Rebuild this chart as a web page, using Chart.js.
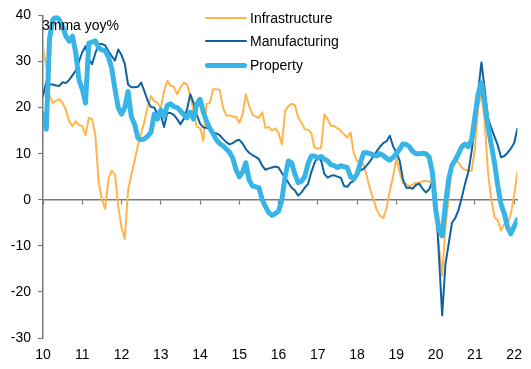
<!DOCTYPE html>
<html>
<head>
<meta charset="utf-8">
<script src="https://cdn.jsdelivr.net/npm/chart.js@4/dist/chart.umd.min.js"></script>
<style>
  body { margin: 0; background: #fff; font-family: "Liberation Sans", Arial, sans-serif; }
  #wrap { position: relative; width: 531px; height: 369px; }
  .note { position: absolute; left: 42px; top: 17px; font-size: 14px; line-height: 16px; color: #000; }
  .leg { position: absolute; left: 205px; font-size: 14px; line-height: 16px; color: #000; }
  .leg span.ln { position: absolute; left: 0; width: 42px; }
  .leg span.tx { position: absolute; left: 45px; top: 0; white-space: nowrap; }
</style>
</head>
<body>
<div id="wrap">
  <canvas id="grafico" width="531" height="369"></canvas>
  <div class="note">3mma yoy%</div>
  <div id="leyenda"></div>
</div>
<script>
// --- Datos (mensuales, ene-2010 a feb-2022) ---
const startYear = 2010;
const yearLabels = ["10", "11", "12", "13", "14", "15", "16", "17", "18", "19", "20", "21", "22"];
const seriesNames = ["Infrastructure", "Manufacturing", "Property"];
const seriesColors = ["#FDB54C", "#0E62A3", "#38B4E6"];

const infrastructure = [
  33, 29, 22.5, 21, 21.5, 21.8, 21, 19.5, 17, 16,
  17, 16.2, 16, 14, 17.8, 17.5, 14, 4, 0, -2,
  4.5, 6.3, 5.5, -1.5, -6, -8.5, 2, 5.5, 8.5, 11.8,
  14.5, 17, 20.2, 22.5, 21.4, 21, 20, 23.6, 25.8, 24.7,
  24.5, 22.9, 24.3, 25.4, 25, 22.6, 19.3, 15.8, 15.6, 12.8,
  20.8, 21, 24, 24, 23.8, 20, 18.3, 18.3, 18, 18,
  16.7, 18.5, 22.9, 20.3, 18.5, 18, 17.8, 19, 15.6, 15.8,
  15, 15.5, 14.5, 12, 19.3, 20.3, 20.8, 20.5, 17.8, 16.7,
  15.3, 15.2, 14.5, 11.3, 11.1, 11.3, 18.5, 17.5, 16, 16,
  15.5, 15, 14.2, 13.5, 14.6, 10, 8.4, 8.3, 7.5, 5,
  2.2, 0, -2.2, -3.5, -4, -1.8, 2, 5, 9, 6,
  3.6, 3.4, 2.8, 3.3, 3.7, 3.7, 4, 4.1, 3.9, 4.1,
  -3, -10, -16.5, -6, 0.5, 8, 9, 8, 7, 6.5,
  6.3, 6.3, 11, 20, 23.2, 17, 6, 0.2, -3.8, -4.5,
  -6.7, -5.3, -5.3, -3, 1, 5.9
];

const manufacturing = [
  22.5, 25.5, 25, 25, 24.8, 24.7, 25.5, 25.3, 26, 27,
  28, 30, 32, 33.3, 30.5, 29.4, 31.8, 33.8, 33.8, 33.5,
  32.2, 31.2, 30.2, 32.6, 31.4, 29.5, 25, 24.4, 24.4, 24.5,
  25.4, 23.5, 21.5, 20.1, 20, 18.6, 18.4, 15.8, 18.9, 18.8,
  18.4, 17.5, 16.4, 17.5, 19.5, 22.9, 21, 18.5, 16.5, 15.7,
  15.6, 15.3, 14.6, 14.4, 14, 13.2, 12.5, 12, 12.3, 12.8,
  13, 12.2, 11, 10.2, 9.7, 9.3, 8.8, 7.4, 6.5, 6.8,
  7, 7.2, 7, 5.8, 4.8, 3.7, 2.6, 2, 0.9, 1.6,
  2.6, 3.4, 6, 8, 9.5, 8.5, 5.6, 4.8, 5.2, 5.3,
  5, 4.8, 3, 2.8, 3.7, 4.1, 5.5, 6.4, 6.7, 7.5,
  8.4, 9.5, 10.5, 11.5, 12.3, 12.7, 13.9, 11.6, 10.2, 8.5,
  4.5, 2.6, 2.6, 2.4, 3.2, 3.5, 2.4, 1.6, 2.2, 4,
  1, -12, -25.1, -14, -9.5, -5, -4, -2.2, 0.5, 3.5,
  6, 10.5, 16, 23.5, 29.8, 24, 17.8, 15.6, 13.7, 11.8,
  9.2, 9.5, 10.2, 11.1, 12.3, 15.4
];

const property = [
  18.6, 15.3, 35, 39, 39.8, 39, 37.5, 35.5, 34.4, 35.5,
  32, 26, 24, 21, 34, 34.2, 34.5, 33, 32.5, 32.3,
  31, 28.5, 24, 20, 18.6, 20, 23.5, 18, 16.4, 13.4,
  13, 13.2, 13.8, 14.6, 18.6, 17.5, 19.5, 18, 20.5, 20.8,
  20.2, 20, 19.3, 18.5, 17.8, 19, 17.5, 20.8, 21.8, 19,
  17, 15.5, 14.3, 13, 12.2, 11.7, 11, 10.3, 9, 6.5,
  5, 6, 8, 4.3, 3, 2.8, 2.6, 0, -1.5, -2.8,
  -3.4, -3, -2.5, 0, 5, 8.4, 8, 5.5, 3.7, 4,
  5, 7.8, 9.5, 9.5, 9, 9.4, 8.8, 8.4, 7.6, 7.4,
  7, 7.4, 7.2, 7, 5, 4.5, 5.6, 8, 10.2, 10.2,
  10, 9.7, 9.5, 10, 9.6, 9, 8.6, 9.2, 10, 11,
  12.1, 12, 11.5, 10.5, 10, 10, 10.1, 10, 9.3, 6,
  -2, -6.5, -7.8, -1, 4.5, 7.5, 8.6, 10, 11.5, 12.1,
  11.5, 13, 18, 23, 25.4, 21, 16, 12, 8, 3,
  -1, -3, -6, -7.4, -5.8, -4.3
];

// --- Utilidades ---
const toPoints = (arr) => arr.map((v, i) => ({ x: startYear + i / 12, y: v }));
const yearTicks = (scale) => {
  scale.ticks = yearLabels.map((_, k) => ({ value: startYear + k }));
};
const axisGrey = "#7a7a7a";
const font = { family: "'Liberation Sans', Arial, sans-serif", size: 14 };
const xMax = startYear + (property.length - 1) / 12;

const anchos = [2, 2, 5];
const orden = [2, 1, 0];
const valores = [infrastructure, manufacturing, property];

const datasets = seriesNames.map((nombre, k) => ({
  label: nombre,
  data: toPoints(valores[k]),
  borderColor: seriesColors[k],
  backgroundColor: seriesColors[k],
  borderWidth: anchos[k],
  pointRadius: 0,
  tension: 0,
  borderJoinStyle: "round",
  borderCapStyle: "round",
  order: orden[k]
}));

new Chart(document.getElementById("grafico").getContext("2d"), {
  type: "line",
  data: { datasets },
  options: {
    responsive: false,
    animation: false,
    devicePixelRatio: 1,
    layout: { padding: { top: 15, right: 9, bottom: 0, left: 0 } },
    plugins: { legend: { display: false }, tooltip: { enabled: false } },
    scales: {
      x: {
        type: "linear",
        position: "bottom",
        min: startYear,
        max: xMax,
        afterBuildTicks: yearTicks,
        afterFit: (s) => { s.height = 31; },
        border: { display: false },
        grid: { display: false, drawTicks: false },
        ticks: {
          padding: 9,
          color: "#000",
          font,
          maxRotation: 0,
          autoSkip: false,
          callback: (v) => yearLabels[Math.round(v - startYear)]
        }
      },
      x2: {
        type: "linear",
        display: true,
        position: { y: 0 },
        min: startYear,
        max: xMax,
        afterBuildTicks: yearTicks,
        border: { display: true, color: axisGrey, width: 1.5 },
        grid: { drawOnChartArea: false, drawTicks: true, tickLength: 4, tickColor: axisGrey, tickWidth: 1.2 },
        ticks: { display: false }
      },
      y: {
        min: -30,
        max: 40,
        afterFit: (s) => { s.width = 43; },
        border: { display: true, color: axisGrey, width: 1.5 },
        grid: { drawOnChartArea: false, drawTicks: true, tickLength: 5, tickColor: axisGrey, tickWidth: 1.2 },
        ticks: { stepSize: 10, padding: 7, color: "#000", font }
      }
    }
  }
});

// --- Leyenda ---
const leyenda = document.getElementById("leyenda");
const filas = [18, 41, 65];
seriesNames.forEach((nombre, k) => {
  const fila = document.createElement("div");
  fila.className = "leg";
  fila.style.top = (filas[k] - 8) + "px";
  const h = anchos[k];
  fila.innerHTML = `<span class="ln" style="top:${8 - h / 2}px;height:${h}px;background:${seriesColors[k]};border-radius:${h / 2}px"></span><span class="tx">${nombre}</span>`;
  leyenda.appendChild(fila);
});
</script>
</body>
</html>
